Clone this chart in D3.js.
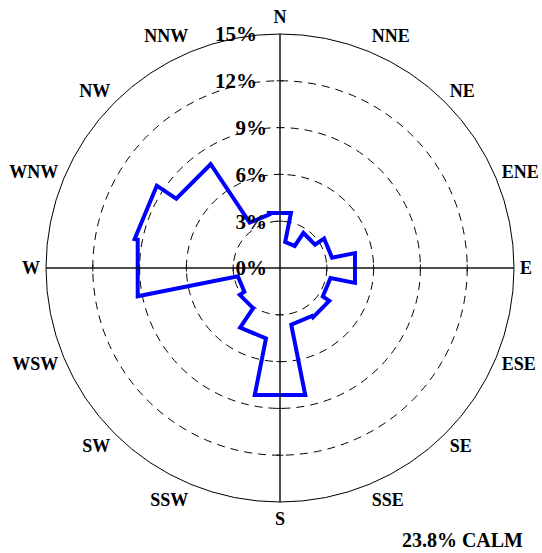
<!DOCTYPE html>
<html>
<head>
<meta charset="utf-8">
<script src="https://cdn.jsdelivr.net/npm/d3@7"></script>
<style>
  body { margin: 0; background: #fff; }
  text { font-family: "Liberation Serif", "Times New Roman", serif; font-weight: bold; fill: #000; }
</style>
</head>
<body>
<div id="rose"></div>
<script>
// wind directions, clockwise from north
var directions = ["N", "NNE", "NE", "ENE", "E", "ESE", "SE", "SSE",
  "S", "SSW", "SW", "WSW", "W", "WNW", "NW", "NNW"];
// frequency (%) per direction
var frequency = [3.6, 1.7, 2.7, 3.4, 4.9, 3.3, 3.8, 3.7,
  8.3, 4.6, 3.1, 2.75, 9.3, 9.5, 8.0, 3.5];
// ring ticks (%)
var ringTicks = [0, 3, 6, 9, 12, 15];
var calm = 23.8;

var width = 542, height = 553;
var cx = 280, cy = 268, radius = 234;
var rad = Math.PI / 180;

var svg = d3
  .select("#rose")
  .append("svg")
  .attr("width", width)
  .attr("height", height);

var g = svg.append("g").attr("transform", "translate(" + cx + "," + cy + ")");

// radial scale, 0% at the centre
var r = d3.scaleLinear().domain([0, d3.max(ringTicks)]).range([0, radius]);

// dashed rings, solid outer ring
g.selectAll(".ring")
  .data(ringTicks.filter((d) => d > 0))
  .enter()
  .append("circle")
  .attr("class", "ring")
  .attr("r", (d) => r(d))
  .attr("fill", "none")
  .attr("stroke", "#000")
  .attr("stroke-width", 1)
  .attr("stroke-dasharray", (d) => (d === d3.max(ringTicks) ? null : "8,6"));

// step outline: one chord per sector, radial edges between sectors
var step = 360 / directions.length;
var points = [];
frequency.forEach(function (v, i) {
  points.push([(i * step - step / 2) * rad, r(v)]);
  points.push([(i * step + step / 2) * rad, r(v)]);
});

var line = d3
  .lineRadial()
  .angle((d) => d[0])
  .radius((d) => d[1])
  .curve(d3.curveLinearClosed);

g.append("path")
  .attr("d", line(points))
  .attr("fill", "none")
  .attr("stroke", "#0000ff")
  .attr("stroke-width", 4)
  .attr("stroke-linejoin", "miter");

// N-S and E-W axes
[0, 90, 180, 270].forEach(function (a) {
  g.append("line")
    .attr("x1", 0)
    .attr("y1", 0)
    .attr("x2", radius * Math.sin(a * rad))
    .attr("y2", -radius * Math.cos(a * rad))
    .attr("stroke", "#111")
    .attr("stroke-width", 1.5);

  // small ticks across the axis at each ring
  ringTicks.slice(1, -1).forEach(function (t) {
    var px = r(t) * Math.sin(a * rad), py = -r(t) * Math.cos(a * rad);
    var tx = Math.cos(a * rad) * 3.5, ty = Math.sin(a * rad) * 3.5;
    g.append("line")
      .attr("x1", px - tx)
      .attr("y1", py - ty)
      .attr("x2", px + tx)
      .attr("y2", py + ty)
      .attr("stroke", "#111")
      .attr("stroke-width", 1);
  });
});

// percent labels up the north axis
g.selectAll(".pct")
  .data(ringTicks)
  .enter()
  .append("text")
  .attr("class", "pct")
  .attr("x", (d) => (d >= 10 ? -23 : -13))
  .attr("y", (d) => -r(d))
  .attr("dy", "0.35em")
  .attr("text-anchor", "end")
  .style("font-size", "21px")
  .text((d) => d + "%");

// direction labels
g.selectAll(".dir")
  .data(directions)
  .enter()
  .append("text")
  .attr("class", "dir")
  .attr("x", (d, i) => 240 * Math.sin(i * step * rad))
  .attr("y", (d, i) => -251 * Math.cos(i * step * rad))
  .attr("dy", "0.35em")
  .attr("text-anchor", function (d, i) {
    var s = Math.sin(i * step * rad);
    return Math.abs(s) < 0.01 ? "middle" : s > 0 ? "start" : "end";
  })
  .style("font-size", "18px")
  .text((d) => d);

// calm note
svg
  .append("text")
  .attr("x", 523)
  .attr("y", 547)
  .attr("text-anchor", "end")
  .style("font-size", "20px")
  .text(calm + "% CALM");
</script>
</body>
</html>
